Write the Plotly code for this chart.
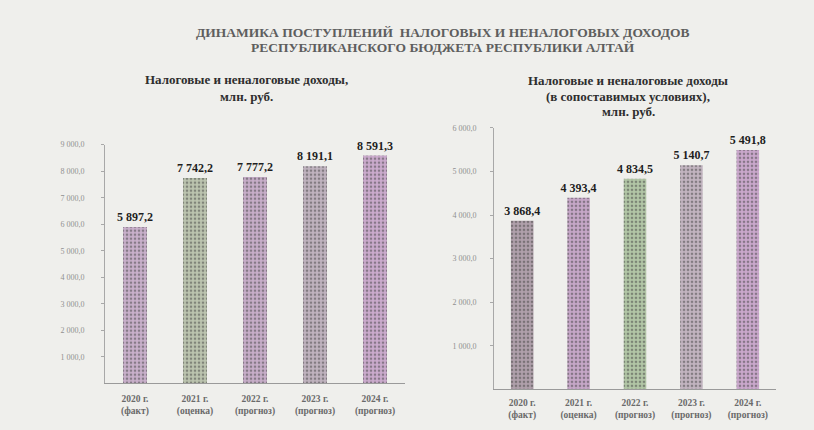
import plotly.graph_objects as go

# ---- data ----
categories = ["2020 г.<br>(факт)", "2021 г.<br>(оценка)", "2022 г.<br>(прогноз)",
              "2023 г.<br>(прогноз)", "2024 г.<br>(прогноз)"]
left_values = [5897.2, 7742.2, 7777.2, 8191.1, 8591.3]
right_values = [3868.4, 4393.4, 4834.5, 5140.7, 5491.8]
left_ticks = [1000, 2000, 3000, 4000, 5000, 6000, 7000, 8000, 9000]
right_ticks = [1000, 2000, 3000, 4000, 5000, 6000]

def fmt(v, dec=1):
    s = f"{v:,.{dec}f}"
    return s.replace(",", " ").replace(".", ",")

left_colors = ["#c9b0cb", "#bcc4af", "#c7aec9", "#c0b3bf", "#cbabcd"]
left_fg = ["#b8bcab", "#ccb8ce", "#bac1ad", "#c8b6c8", "#bbbdac"]
right_colors = ["#b0a0ab", "#c6a7c8", "#b2c6a6", "#c2b4c0", "#caa8cc"]
right_fg = ["#a5ab9f", "#bbbcaa", "#c4b6c4", "#b2bfa8", "#b9bbad"]

W, H = 814, 430
def px(x): return x / W
def py(y): return 1 - y / H

serif = "Liberation Serif"
fig = go.Figure()

fig.add_trace(go.Bar(
    x=list(range(5)), y=left_values, xaxis="x", yaxis="y",
    width=0.4,
    marker=dict(color=left_colors, line=dict(width=0),
                pattern=dict(shape=".", fgcolor=left_fg, size=4, solidity=0.35)),
    text=[f"<b>{fmt(v)}</b>" for v in left_values], textposition="outside",
    constraintext="none",
    textfont=dict(family=serif, size=12, color="#1e1e1e"), cliponaxis=False,
    showlegend=False, hoverinfo="skip"))

fig.add_trace(go.Bar(
    x=list(range(5)), y=right_values, xaxis="x2", yaxis="y2",
    width=0.4,
    marker=dict(color=right_colors, line=dict(width=0),
                pattern=dict(shape=".", fgcolor=right_fg, size=4, solidity=0.35)),
    text=[f"<b>{fmt(v)}</b>" for v in right_values], textposition="outside",
    constraintext="none",
    textfont=dict(family=serif, size=12, color="#1e1e1e"), cliponaxis=False,
    showlegend=False, hoverinfo="skip"))

tickfont_yl = dict(family=serif, size=8, color="#909090")
tickfont_yr = dict(family=serif, size=8, color="#909090")
tickfont_x = dict(family=serif, size=9.5, color="#6a6a6a")

fig.update_layout(
    width=W, height=H, margin=dict(l=0, r=0, t=0, b=0),
    paper_bgcolor="#efefec", plot_bgcolor="rgba(0,0,0,0)",
    xaxis=dict(domain=[px(105), px(405)], range=[-0.5, 4.5], tickvals=list(range(5)),
               ticktext=[f"<b>{c}</b>" for c in categories], tickfont=tickfont_x,
               showline=True, linecolor="#9a9a9a", linewidth=1, showgrid=False,
               ticks="", zeroline=False, anchor="y", ticklabelstandoff=6),
    yaxis=dict(domain=[py(383), py(142)], range=[0, 9000], tickvals=left_ticks,
               ticktext=[fmt(t) for t in left_ticks], tickfont=tickfont_yl,
               showline=True, linecolor="#a8a8a8", linewidth=1, showgrid=False,
               ticks="outside", ticklen=3, tickcolor="#a8a8a8", zeroline=False,
               anchor="x", ticklabelstandoff=15),
    xaxis2=dict(domain=[px(494), px(776)], range=[-0.5, 4.5], tickvals=list(range(5)),
                ticktext=[f"<b>{c}</b>" for c in categories], tickfont=tickfont_x,
                showline=True, linecolor="#9a9a9a", linewidth=1, showgrid=False,
                ticks="", zeroline=False, anchor="y2", ticklabelstandoff=4),
    yaxis2=dict(domain=[py(389), py(125)], range=[0, 6000], tickvals=right_ticks,
                ticktext=[fmt(t) for t in right_ticks], tickfont=tickfont_yr,
                showline=True, linecolor="#a8a8a8", linewidth=1, showgrid=False,
                ticks="outside", ticklen=3, tickcolor="#a8a8a8", zeroline=False,
                anchor="x2", ticklabelstandoff=12),
)

annotations = [
    dict(text="<b>ДИНАМИКА ПОСТУПЛЕНИЙ  НАЛОГОВЫХ И НЕНАЛОГОВЫХ ДОХОДОВ</b>",
         x=px(443), y=py(29), font=dict(family=serif, size=13.5, color="#5e5e5e")),
    dict(text="<b>РЕСПУБЛИКАНСКОГО БЮДЖЕТА РЕСПУБЛИКИ АЛТАЙ</b>",
         x=px(443), y=py(44), font=dict(family=serif, size=13.5, color="#5e5e5e")),
    dict(text="<b>Налоговые и неналоговые доходы,</b>",
         x=px(246), y=py(76), font=dict(family=serif, size=13, color="#2e2e2e")),
    dict(text="<b>млн. руб.</b>",
         x=px(246), y=py(93), font=dict(family=serif, size=13, color="#2e2e2e")),
    dict(text="<b>Налоговые и неналоговые доходы</b>",
         x=px(628), y=py(77), font=dict(family=serif, size=13, color="#2e2e2e")),
    dict(text="<b>(в сопоставимых условиях),</b>",
         x=px(628), y=py(93), font=dict(family=serif, size=13, color="#2e2e2e")),
    dict(text="<b>млн. руб.</b>",
         x=px(628), y=py(109), font=dict(family=serif, size=13, color="#2e2e2e")),
]
for a in annotations:
    a.update(xref="paper", yref="paper", showarrow=False, xanchor="center", yanchor="middle")
fig.update_layout(annotations=annotations)

fig.write_html("out.html", config={"displayModeBar": False},
               post_script="document.body.style.margin='0';document.body.style.background='#efefec';")
